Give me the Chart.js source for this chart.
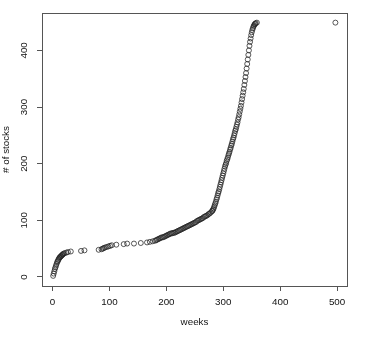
<!DOCTYPE html>
<html>
<head>
<meta charset="utf-8">
<script src="https://cdn.jsdelivr.net/npm/chart.js@4/dist/chart.umd.min.js"></script>
<style>
  html, body { margin: 0; padding: 0; background: #fff; }
  #wrap { width: 368px; height: 340px; }
</style>
</head>
<body>
<div id="wrap"><canvas id="stocksChart" width="368" height="340"></canvas></div>
<script>
// weeks at which the count changed, and the cumulative number of stocks
const weeks = [
  1, 2, 3, 4, 5, 6, 7, 8, 9, 10, 11, 12, 13, 14, 15, 16, 17, 18, 19, 21, 24, 27, 32,
  50, 56, 81, 86, 88, 90, 92, 95, 98, 101, 104, 112, 125, 131, 143, 155, 166, 171, 176,
  180, 182, 184, 186, 188, 190, 192, 194, 196, 198, 200, 202, 204, 206, 208,
  210, 212, 214, 216, 218, 220, 222, 224, 226, 228, 230, 232, 234, 236, 238,
  240, 242, 244, 246, 248, 250, 252, 254, 256, 258, 260, 262, 264, 266, 268,
  270, 272, 274, 276, 278,
  280, 281, 282, 283, 284, 285, 286, 287, 288, 289, 290, 291, 292, 293, 294,
  295, 296, 297, 298, 299, 300, 301, 302, 303, 304, 305, 306, 307, 308, 309,
  310, 311, 312, 313, 314, 315, 316, 317, 318, 319, 320, 321, 322, 323, 324,
  325, 326, 327, 328, 329, 330, 331, 332, 333, 334, 335, 336, 337, 338, 339,
  340, 341, 342, 343, 344, 345, 346, 347, 348, 349, 350, 351, 352, 353, 354,
  355, 356, 357, 359,
  497
];
const stocks = [
  2, 6, 10, 14, 17, 20, 23, 26, 28, 30, 32, 34, 35, 36, 37, 38, 39, 40, 41, 42, 43, 44, 45,
  46, 47, 48, 49, 50, 51, 52, 53, 54, 55, 56, 57, 58, 59, 59, 60, 61, 62, 63,
  64, 65, 66, 67, 68, 69, 70, 70, 71, 72, 73, 74, 75, 76, 77,
  77, 78, 78, 79, 80, 81, 82, 83, 84, 85, 86, 87, 88, 89, 90,
  91, 92, 93, 94, 95, 96, 97, 99, 100, 101, 102, 103, 104, 106, 107,
  108, 109, 111, 112, 114,
  116, 117, 119, 121, 124, 127, 130, 133, 137, 140, 144, 148, 151, 155, 159,
  163, 167, 171, 175, 179, 183, 187, 191, 195, 198, 201, 205, 208, 211, 215,
  218, 221, 225, 228, 232, 235, 239, 243, 246, 250, 254, 258, 261, 265, 269,
  273, 278, 282, 287, 292, 297, 302, 308, 314, 320, 326, 332, 339, 346, 353,
  360, 368, 376, 384, 392, 400, 408, 415, 421, 427, 432, 436, 439, 442, 444,
  446, 447, 448, 449,
  449
];
const xTicks = [0, 100, 200, 300, 400, 500];
const yTicks = [0, 100, 200, 300, 400];

const points = weeks.map((w, i) => ({ x: w, y: stocks[i] }));
const font = { family: 'Liberation Sans, Arial, sans-serif', size: 9.8 };
const ink = '#555';

// R style frame round the plot region
const frame = {
  id: 'frame',
  afterDraw(chart) {
    const { ctx, chartArea: a } = chart;
    ctx.save();
    ctx.strokeStyle = ink;
    ctx.lineWidth = 1;
    ctx.strokeRect(Math.round(a.left) + 0.5, Math.round(a.top) + 0.5,
      Math.round(a.right - a.left), Math.round(a.bottom - a.top));
    ctx.restore();
  }
};

new Chart(document.getElementById('stocksChart'), {
  type: 'scatter',
  data: {
    datasets: [{
      data: points,
      showLine: false,
      pointStyle: 'circle',
      pointRadius: 2.5,
      pointHoverRadius: 2.5,
      pointBorderWidth: 0.75,
      borderColor: '#222',
      backgroundColor: 'rgba(0,0,0,0)'
    }]
  },
  options: {
    responsive: false,
    animation: false,
    layout: { padding: { top: 13, right: 21, left: 0, bottom: 0 } },
    plugins: { legend: { display: false }, tooltip: { enabled: false } },
    scales: {
      x: {
        type: 'linear',
        min: -18.6,
        max: 517.4,
        afterBuildTicks: s => { s.ticks = xTicks.map(v => ({ value: v })); },
        afterFit: s => { s.height = 54; },
        grid: { drawOnChartArea: false, drawTicks: true, tickLength: 5, color: ink },
        border: { display: false },
        ticks: { font, color: '#111', padding: 5, maxRotation: 0 },
        title: { display: true, text: 'weeks', font, color: '#111', padding: { top: 0, bottom: 12 } }
      },
      y: {
        type: 'linear',
        min: -15.9,
        max: 466,
        afterBuildTicks: s => { s.ticks = yTicks.map(v => ({ value: v })); },
        afterFit: s => { s.width = 42; },
        grid: { drawOnChartArea: false, drawTicks: true, tickLength: 5, color: ink },
        border: { display: false },
        ticks: { font, color: '#111', padding: 4.5, minRotation: 90, maxRotation: 90, crossAlign: 'center' },
        title: { display: true, text: '# of stocks', font, color: '#111', padding: { top: 0.5, bottom: 0 } }
      }
    }
  },
  plugins: [frame]
});
</script>
</body>
</html>
